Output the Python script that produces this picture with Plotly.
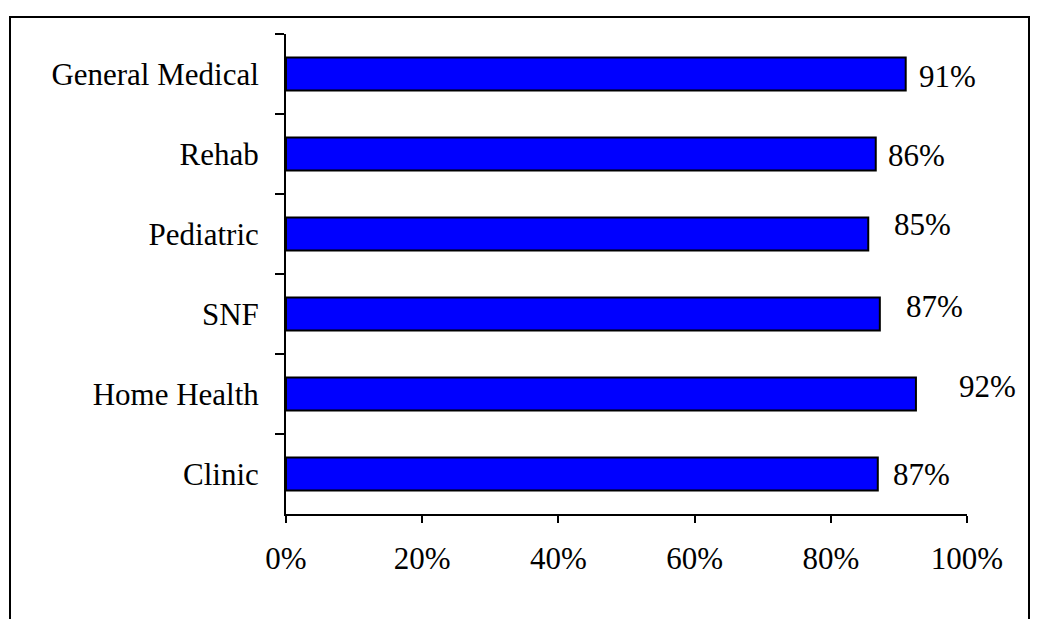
import plotly.graph_objects as go

categories = ["General Medical", "Rehab", "Pediatric", "SNF", "Home Health", "Clinic"]
values = [0.910, 0.866, 0.855, 0.872, 0.925, 0.869]
labels = ["91%", "86%", "85%", "87%", "92%", "87%"]
x_tickvals = [0, 0.2, 0.4, 0.6, 0.8, 1.0]
x_ticktext = ["0%", "20%", "40%", "60%", "80%", "100%"]

# label offsets (px) relative to bar end / category centre
label_dx = [42, 41, 54, 55, 72, 44]
label_dy = [-2, -1, 10, 8, 8, 0]

FONT = "Liberation Serif"
FS = 31

fig = go.Figure(go.Bar(
    y=categories, x=values, orientation="h",
    marker=dict(color="#0000FF", line=dict(color="black", width=2)),
    width=0.41, showlegend=False, hoverinfo="skip",
))

L, R, T, B = 286, 71, 34, 105
W, H = 1038, 619
pw, ph = W - L - R, H - T - B

annotations = []
for c, v, t, dx, dy in zip(categories, values, labels, label_dx, label_dy):
    annotations.append(dict(x=v, y=c, xref="x", yref="y", text=t, showarrow=False,
                            xanchor="center", yanchor="middle", xshift=dx, yshift=dy,
                            font=dict(family=FONT, size=FS, color="black")))

fig.update_layout(
    width=W, height=H,
    margin=dict(l=L, r=R, t=T, b=B, pad=0),
    paper_bgcolor="white", plot_bgcolor="white",
    font=dict(family=FONT, size=FS, color="black"),
    xaxis=dict(range=[0, 1], tickvals=x_tickvals, ticktext=x_ticktext,
               showgrid=False, zeroline=False, showline=True, linecolor="black", linewidth=2,
               ticks="outside", ticklen=7, tickwidth=2, tickcolor="black",
               ticklabelstandoff=9, fixedrange=True),
    yaxis=dict(categoryorder="array", categoryarray=categories, autorange="reversed",
               showgrid=False, zeroline=False, showline=True, linecolor="black", linewidth=2,
               ticks="outside", ticklen=9, tickwidth=2, tickcolor="black",
               tickson="boundaries", ticklabelstandoff=19, fixedrange=True),
    annotations=annotations,
    shapes=[dict(type="rect", xref="paper", yref="paper",
                 x0=(10 - L) / pw, x1=(1029 - L) / pw,
                 y0=(H - B - 660) / ph, y1=(H - B - 17) / ph,
                 line=dict(color="black", width=2), fillcolor="rgba(0,0,0,0)", layer="below")],
)

fig.write_html("out.html", config={"displayModeBar": False})
